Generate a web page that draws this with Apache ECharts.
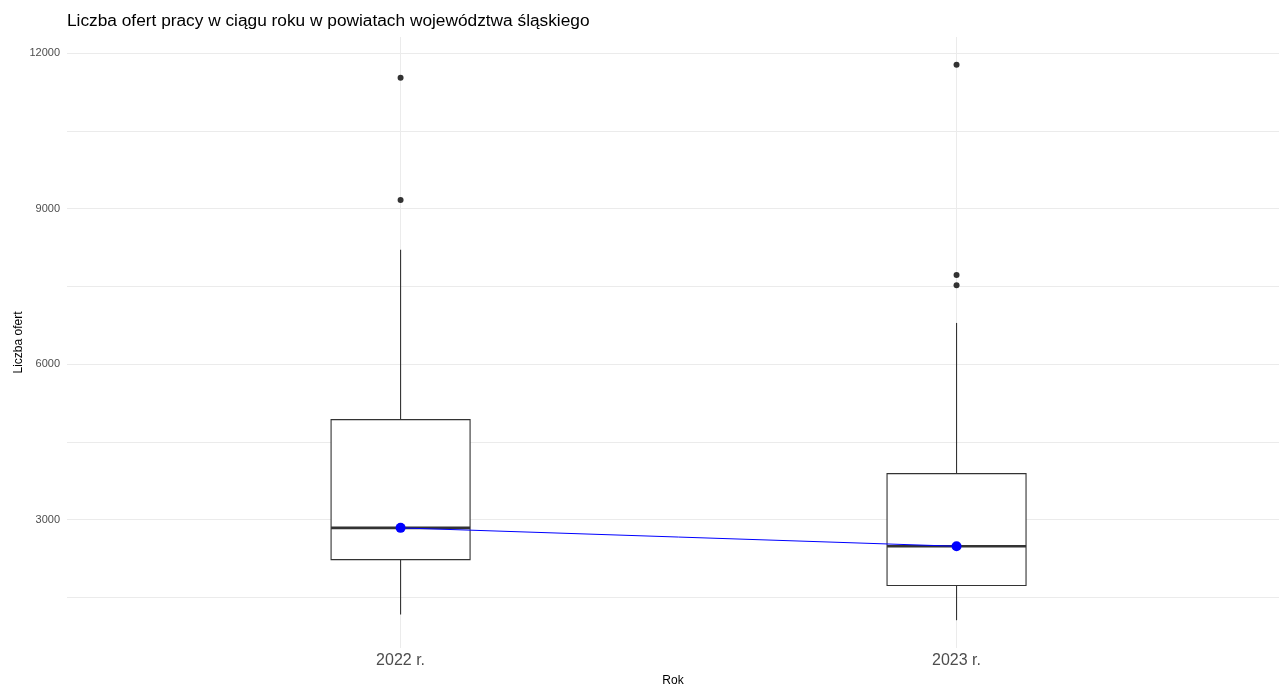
<!DOCTYPE html>
<html>
<head>
<meta charset="utf-8">
<script src="https://cdn.jsdelivr.net/npm/echarts@6/dist/echarts.min.js"></script>
<style>
  html, body { margin: 0; padding: 0; background: #fff; }
  #chart { width: 1279px; height: 687px; }
</style>
</head>
<body>
<div id="chart"></div>
<script>
// values
const years = ['2022 r.', '2023 r.'];
const whiskerLow = [1169, 1059];
const q1 = [2229, 1728];
const median = [2841, 2486];
const q3 = [4930, 3888];
const whiskerHigh = [8208, 6795];
const outliers = [
  [9167, 11525],
  [7520, 7720, 11776]
];
const means = [2841, 2486];
const yLabels = [3000, 6000, 9000, 12000];
const yGrid = [1500, 3000, 4500, 6000, 7500, 9000, 10500, 12000];

const font = 'Liberation Sans, Arial, sans-serif';
const boxW = 0.25;

const boxData = years.map((y, i) => [i + 1, whiskerLow[i], q1[i], median[i], q3[i], whiskerHigh[i]]);
const outlierData = [];
outliers.forEach((arr, i) => arr.forEach(v => outlierData.push([i + 1, v])));
const meanData = means.map((v, i) => [i + 1, v]);

function renderBox(params, api) {
  const x = api.value(0);
  const lo = api.coord([x, api.value(1)]);
  const b = api.coord([x - boxW / 2, api.value(2)]);
  const m1 = api.coord([x - boxW / 2, api.value(3)]);
  const m2 = api.coord([x + boxW / 2, api.value(3)]);
  const t = api.coord([x + boxW / 2, api.value(4)]);
  const hi = api.coord([x, api.value(5)]);
  const stroke = { stroke: '#333333', lineWidth: 1.1 };
  return {
    type: 'group',
    children: [
      { type: 'line', shape: { x1: hi[0], y1: hi[1], x2: hi[0], y2: t[1] }, style: stroke },
      { type: 'line', shape: { x1: lo[0], y1: lo[1], x2: lo[0], y2: b[1] }, style: stroke },
      { type: 'rect', shape: { x: b[0], y: t[1], width: t[0] - b[0], height: b[1] - t[1] },
        style: { fill: '#ffffff', stroke: '#333333', lineWidth: 1.1 } },
      { type: 'line', shape: { x1: m1[0], y1: m1[1], x2: m2[0], y2: m2[1] },
        style: { stroke: '#333333', lineWidth: 2.6 } }
    ]
  };
}

const chart = echarts.init(document.getElementById('chart'));
chart.setOption({
  animation: false,
  backgroundColor: '#ffffff',
  textStyle: { fontFamily: font },
  title: {
    text: 'Liczba ofert pracy w ciągu roku w powiatach województwa śląskiego',
    left: 62,
    top: 8,
    textStyle: { fontSize: 17.3, fontWeight: 'normal', color: '#000', fontFamily: font }
  },
  grid: { left: 67, right: 0, top: 37, bottom: 39, outerBoundsMode: 'none', containLabel: false },
  xAxis: {
    type: 'value',
    min: 0.4,
    max: 2.58,
    name: 'Rok',
    nameLocation: 'middle',
    nameGap: 27,
    nameMoveOverlap: false,
    nameTextStyle: { fontSize: 12, color: '#000', fontFamily: font },
    axisLine: { show: false },
    axisTick: { show: false, customValues: [1, 2] },
    axisLabel: {
      customValues: [1, 2],
      formatter: v => years[Math.round(v) - 1],
      fontSize: 16, color: '#4D4D4D', margin: 5, fontFamily: font
    },
    splitLine: { show: true, lineStyle: { color: '#EBEBEB', width: 1 } }
  },
  yAxis: {
    type: 'value',
    min: 523,
    max: 12312,
    name: 'Liczba ofert',
    nameLocation: 'middle',
    nameGap: 42,
    nameMoveOverlap: false,
    nameTextStyle: { fontSize: 12, color: '#000', fontFamily: font },
    axisLine: { show: false },
    axisTick: { show: false, customValues: yGrid },
    axisLabel: {
      customValues: yLabels,
      formatter: v => String(v),
      fontSize: 11, color: '#4D4D4D', margin: 7, fontFamily: font
    },
    splitLine: { show: true, lineStyle: { color: '#EBEBEB', width: 1 } }
  },
  series: [
    {
      type: 'custom',
      renderItem: renderBox,
      data: boxData,
      encode: { x: 0, y: [1, 2, 3, 4, 5] },
      z: 2
    },
    {
      type: 'scatter',
      data: outlierData,
      symbolSize: 6,
      itemStyle: { color: '#333333', opacity: 1 },
      z: 3
    },
    {
      type: 'line',
      data: meanData,
      symbol: 'circle',
      symbolSize: 10,
      showSymbol: true,
      lineStyle: { color: '#0000FF', width: 1 },
      itemStyle: { color: '#0000FF', opacity: 1 },
      z: 4
    }
  ]
});
</script>
</body>
</html>
